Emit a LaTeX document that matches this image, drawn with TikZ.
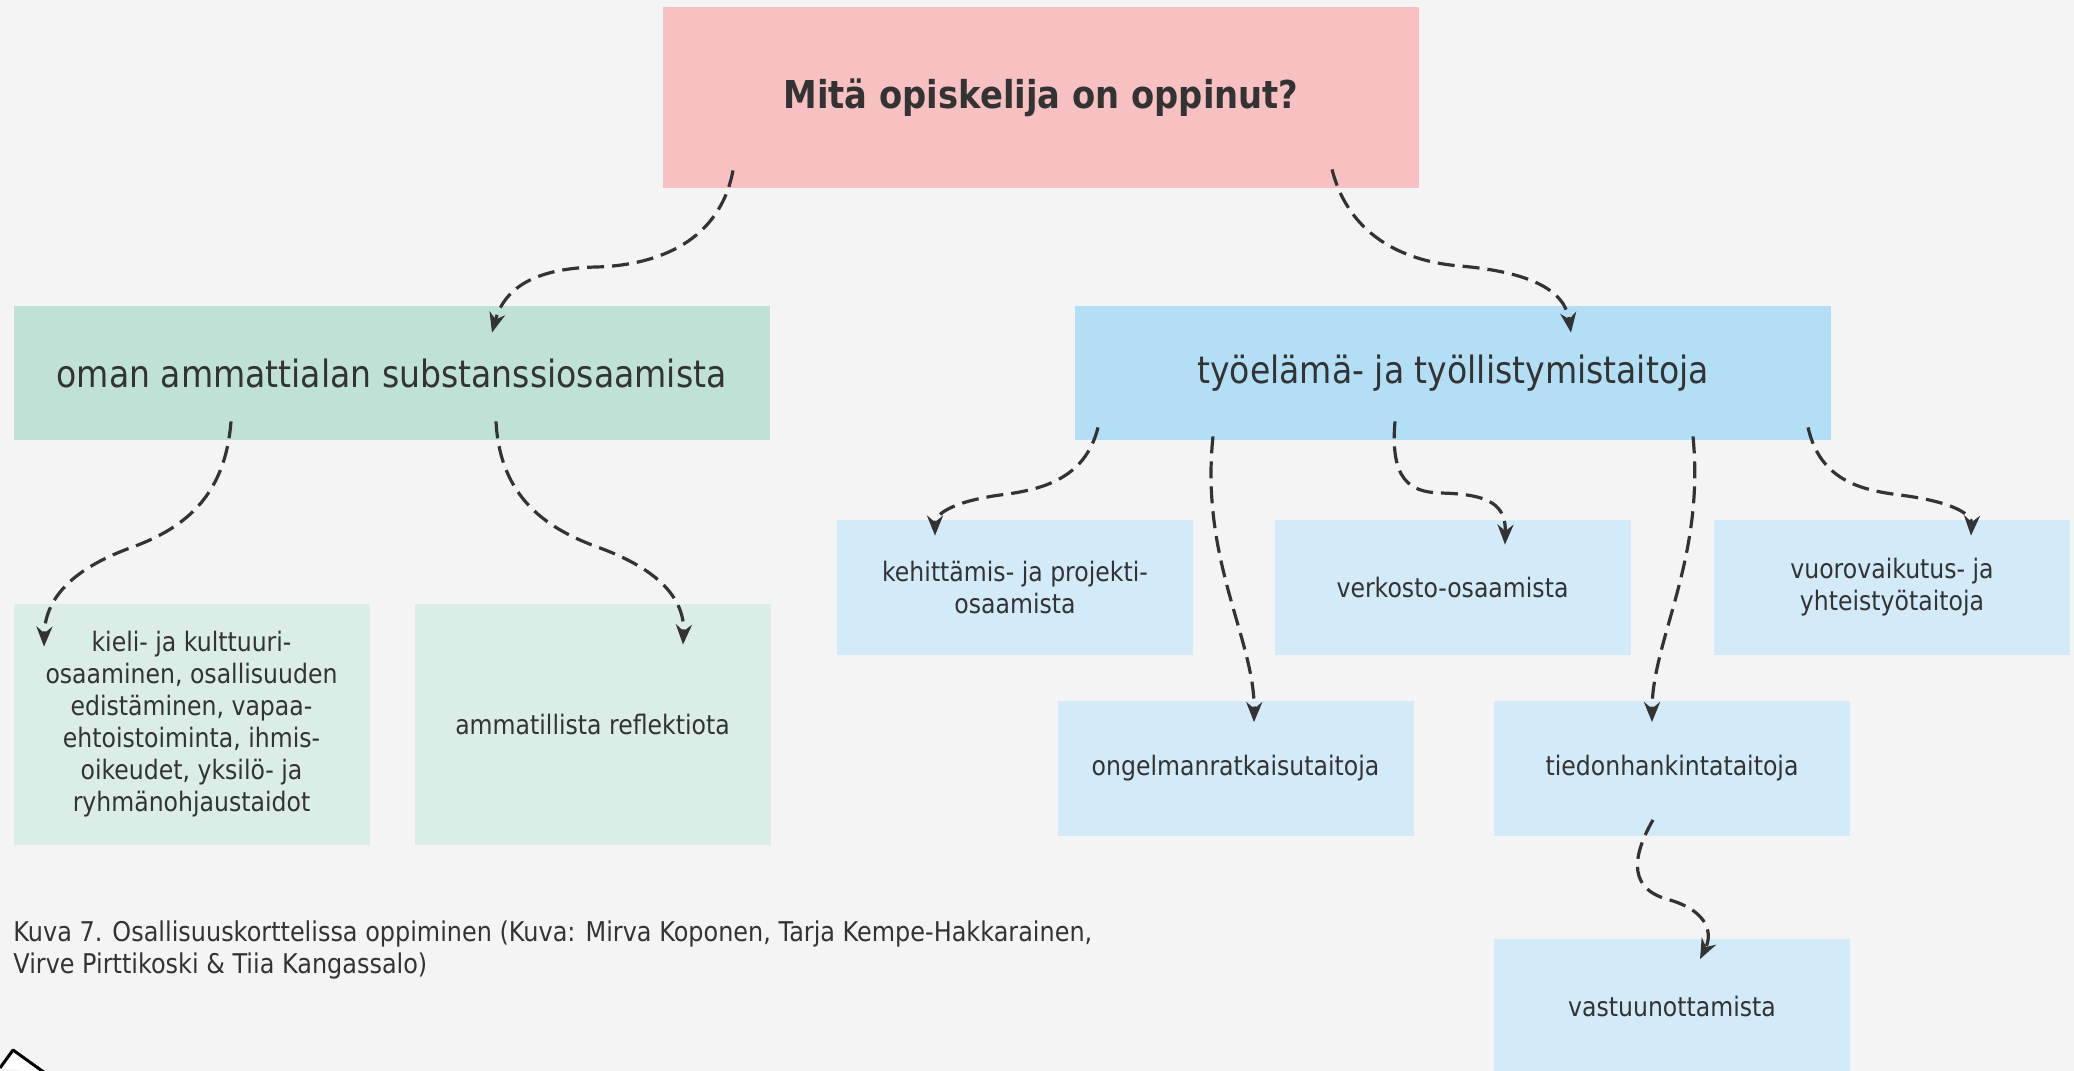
\documentclass[tikz,border=0pt]{standalone}
\usepackage{fontspec}
\setmainfont{DejaVu Sans}[FakeStretch=0.88]
\usetikzlibrary{arrows.meta,calc}

\definecolor{paper}{HTML}{F4F4F5}
\definecolor{ink}{HTML}{333333}
\definecolor{pinkfill}{HTML}{F8C1C1}
\definecolor{greenfill}{HTML}{C0E2D6}
\definecolor{bluefill}{HTML}{B3DFF6}
\definecolor{palegreen}{HTML}{DAEDE6}
\definecolor{paleblue}{HTML}{D3EAF9}

\tikzstyle{card} =[inner sep=0pt, align=center, text=ink]
\tikzstyle{topcard} =[card, fill=pinkfill, minimum width=378pt, minimum height=90.5pt,
font=\bfseries\fontsize{19.2}{23}\selectfont]
\tikzstyle{maincard} =[card, minimum width=378pt, minimum height=67pt,
font=\fontsize{18.8}{23}\selectfont]
\tikzstyle{smallcard} =[card, minimum width=178pt, minimum height=67.5pt,
font=\fontsize{13.4}{16}\selectfont]
\tikzstyle{link} =[draw=ink, line width=1.6pt, dash pattern=on 8.5pt off 4pt,
-{Stealth[length=10pt,width=8pt]}]

\begin{document}
\begin{tikzpicture}[x=0.5pt, y=-0.5pt]
\fill[paper] (0,0) rectangle (2074,1071);
\useasboundingbox (0,0) rectangle (2074,1071);

\node[topcard] (question) at (1041,97.5) {Mitä opiskelija on oppinut?};

\node[maincard, fill=greenfill] (oman) at (391.5,373) {oman ammattialan substanssiosaamista};
\node[maincard, fill=bluefill] (tyo) at (1453,373) {työelämä- ja työllistymistaitoja};

\node[smallcard, fill=palegreen, minimum height=120.5pt] (kieli) at (191.5,724.5)
{kieli- ja kulttuuri-\\osaaminen, osallisuuden\\edistäminen, vapaa-\\ehtoistoiminta, ihmis-\\oikeudet, yksilö- ja\\ryhmänohjaustaidot};
\node[smallcard, fill=palegreen, minimum height=120.5pt] (reflektio) at (592.5,724.5)
{ammatillista reflektiota};

\node[smallcard, fill=paleblue] (kehitys) at (1015,587.5) {kehittämis- ja projekti-\\osaamista};
\node[smallcard, fill=paleblue] (verkosto) at (1452.5,587.5) {verkosto-osaamista};
\node[smallcard, fill=paleblue] (vuoro) at (1892,587.5) {vuorovaikutus- ja\\yhteistyötaitoja};
\node[smallcard, fill=paleblue] (ongelma) at (1235.5,768) {ongelmanratkaisutaitoja};
\node[smallcard, fill=paleblue] (tiedon) at (1672,768) {tiedonhankintataitoja};
\node[smallcard, fill=paleblue] (vastuu) at (1672,1006) {vastuunottamista};

\draw[link] ($(question.south)+(-308,-18)$) .. controls (720,240) and (660,265) .. (597,267)
 .. controls (540,268) and (505,285) .. ($(oman.north)+(100.5,27)$);
\draw[link] ($(question.south)+(291,-19)$) .. controls (1350,240) and (1410,262) .. (1460,266)
 .. controls (1530,272) and (1565,290) .. ($(tyo.north)+(118,27)$);

\draw[link] ($(oman.south)+(-160.5,-19)$) .. controls (225,500) and (180,530) .. (130,548)
 .. controls (70,570) and (45,600) .. ($(kieli.north)+(-147.5,43)$);
\draw[link] ($(oman.south)+(104.5,-19)$) .. controls (500,500) and (550,530) .. (600,548)
 .. controls (660,570) and (685,600) .. ($(reflektio.north)+(90.5,41)$);

\draw[link] ($(tyo.south)+(-355,-13)$) .. controls (1085,480) and (1040,490) .. (1000,495)
 .. controls (950,502) and (935,515) .. ($(kehitys.north)+(-80,16)$);
\draw[link] ($(tyo.south)+(-240,-4)$) .. controls (1200,560) and (1255,640)
 .. ($(ongelma.north)+(18.5,22)$);
\draw[link] ($(tyo.south)+(-58,-19)$) .. controls (1390,480) and (1410,492) .. (1440,493)
 .. controls (1490,494) and (1506,505) .. ($(verkosto.north)+(52.5,25)$);
\draw[link] ($(tyo.south)+(240,-4)$) .. controls (1705,560) and (1652,640)
 .. ($(tiedon.north)+(-20,22)$);
\draw[link] ($(tyo.south)+(355,-13)$) .. controls (1820,480) and (1860,490) .. (1900,495)
 .. controls (1955,502) and (1972,515) .. ($(vuoro.north)+(79,16)$);

\draw[link] ($(tiedon.south)+(-19,-16)$) .. controls (1630,860) and (1630,890) .. (1670,900)
 .. controls (1710,912) and (1712,935) .. ($(vastuu.north)+(28,21)$);

\node[anchor=west, inner sep=0pt, align=left, text=ink, font=\fontsize{13.6}{16}\selectfont] (caption) at (13,950)
{Kuva 7. Osallisuuskorttelissa oppiminen (Kuva: Mirva Koponen, Tarja Kempe-Hakkarainen,\\Virve Pirttikoski \& Tiia Kangassalo)};

\draw[line width=1.5pt, fill=white, line join=round] (0,1068) -- (13,1050) -- (45,1073);
\end{tikzpicture}
\end{document}
